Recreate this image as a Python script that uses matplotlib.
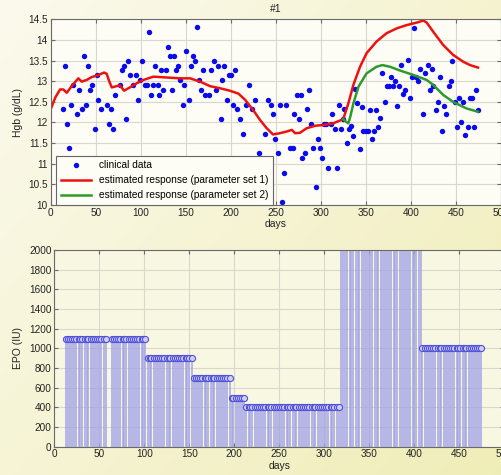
import numpy as np
import matplotlib
matplotlib.use("Agg")
import matplotlib.pyplot as plt

plt.rcParams['font.family'] = ['Liberation Sans', 'DejaVu Sans']

# ---------------- data ----------------
clin_days = [13.7, 15.6, 17.8, 20.4, 22.6, 24.4, 29.6, 31.5, 34.4, 36.7, 38.9, 41.5, 43.7, 45.9,
             48.9, 51.1, 52.6, 55.9, 63, 64.8, 67, 69.6, 71.9, 77, 78.9, 81.1, 83.7, 85.6, 87.8,
             91.1, 94.4, 97.4, 99.6, 101.9, 104.4, 106.7, 108.9, 111.5, 113.7, 115.9, 118.9,
             120.7, 123, 125.2, 127.8, 130, 132.6, 134.8, 137, 139.3, 141.9, 143.7, 146.7, 148.5,
             150.7, 153.7, 155.6, 157.8, 160.4, 162.6, 164.8, 167.4, 169.6, 171.9, 175.6, 178.5,
             181.5, 183.7, 185.9, 188.9, 190.7, 193, 195.6, 197.8, 200.4, 203, 205.2, 207.4, 210,
             214, 216.7, 220.7, 224, 226.7, 231.5, 233.7, 238.1, 241.9, 244.4, 246.7, 249.3,
             252.6, 254.4, 256.7, 259.3, 261.5, 265.9, 268.9, 270.7, 273.7, 275.9, 278.1, 279.6,
             282.2, 284.4, 286.7, 289.3, 291.5, 294.4, 296.7, 298.9, 301.5, 303.7, 305.9, 308.5,
             311.5, 313, 315.6, 317.8, 320, 322.2, 325.2, 326.3, 329.3, 331.5, 333.7, 336.3,
             338.5, 340.7, 343.7, 345.9, 347.4, 350, 352.2, 354.8, 357, 359.3, 361.5, 363.7,
             366.3, 368.5, 371.5, 373.3, 375.9, 378.1, 380, 382.6, 384.8, 387.4, 389.6, 391.9,
             394.1, 396.7, 398.9, 401.5, 403.7, 406.3, 408.5, 410.7, 414, 416.3, 418.9, 421.1,
             423.3, 425.2, 427.8, 430, 432.2, 435.2, 437, 439.3, 442.2, 444.4, 446.3, 449.3,
             451.1, 453.7, 456.3, 458.5, 460.7, 463.3, 465.6, 467.8, 470.4, 472.6, 474.8]
clin_hgb = [12.32, 13.37, 11.96, 11.37, 12.43, 12.90, 12.21, 12.79, 12.32, 13.61, 12.43, 13.37,
            12.79, 12.90, 11.84, 13.14, 12.55, 12.32, 12.43, 11.96, 12.32, 11.84, 12.67, 12.90,
            13.26, 13.37, 12.08, 13.49, 13.14, 12.90, 13.14, 12.55, 13.02, 13.49, 12.90, 12.90,
            14.19, 12.67, 12.90, 13.37, 12.90, 12.67, 13.26, 12.79, 13.26, 13.84, 13.61, 12.79,
            13.61, 13.26, 13.37, 13.02, 12.43, 12.90, 13.72, 12.55, 13.37, 13.61, 13.49, 14.31,
            13.02, 12.79, 13.26, 12.67, 12.67, 13.26, 13.49, 12.79, 13.37, 12.08, 13.02, 13.37,
            12.55, 13.14, 13.14, 12.43, 13.26, 12.32, 12.08, 11.72, 12.43, 12.90, 12.32, 12.55,
            11.26, 11.14, 11.72, 12.55, 12.43, 12.20, 11.61, 11.26, 12.43, 10.07, 10.78, 12.43,
            11.37, 11.37, 12.20, 12.67, 12.08, 12.67, 11.14, 11.26, 12.32, 12.79, 11.96, 11.37,
            10.43, 11.61, 11.37, 11.14, 11.96, 11.96, 10.90, 11.96, 12.20, 11.84, 10.90, 12.43,
            11.84, 12.08, 12.32, 11.50, 11.84, 11.92, 11.68, 12.81, 12.48, 11.35, 12.38, 11.79,
            11.79, 11.79, 12.30, 11.59, 11.79, 12.30, 11.89, 12.10, 13.20, 12.50, 12.89, 12.89,
            13.09, 12.89, 13.00, 12.39, 12.89, 13.40, 12.69, 12.79, 13.51, 12.59, 13.09, 14.29,
            13.09, 13.00, 13.30, 12.20, 13.20, 13.40, 12.79, 13.30, 12.89, 12.29, 12.50, 13.09,
            11.79, 12.39, 12.20, 12.89, 13.00, 13.50, 12.50, 11.89, 12.59, 12.00, 12.50, 11.69,
            11.89, 12.59, 12.59, 11.89, 12.79, 12.29]

est1_days = [0, 5, 10.4, 14, 17.8, 23.3, 30.7, 34.4, 40, 45.6, 53, 59.3, 62.2, 65, 67.8, 73.3, 77,
             81.5, 88, 95.6, 103, 114, 128.9, 143.7, 154.8, 166, 177, 188, 199, 208.5, 216, 225,
             232.6, 240, 247, 254.8, 262, 268, 271.5, 277, 284.4, 293.7, 303, 314, 325, 330.7,
             336.3, 343.7, 351, 362, 373, 384.4, 395.6, 406.7, 414, 417.8, 425, 436, 447, 458.5,
             466, 474.8]
est1_hgb = [12.32, 12.6, 12.8, 12.8, 12.72, 12.88, 13.07, 12.99, 13.03, 13.1, 13.15, 13.21, 13.18,
            13.0, 12.85, 12.88, 12.9, 12.77, 12.85, 12.95, 13.03, 13.11, 13.09, 13.07, 13.07,
            12.99, 12.88, 12.83, 12.77, 12.7, 12.55, 12.3, 12.06, 11.86, 11.71, 11.74, 11.78,
            11.82, 11.74, 11.75, 11.86, 11.92, 11.94, 11.98, 12.08, 12.46, 12.91, 13.35, 13.68,
            13.96, 14.16, 14.28, 14.36, 14.42, 14.47, 14.42, 14.2, 13.88, 13.64, 13.47, 13.39,
            13.33]

est2_days = [325, 328, 330.7, 333, 336.3, 342, 351, 362, 368.5, 377, 388, 403, 417.8, 425, 436,
             447, 462, 474.8]
est2_hgb = [12.08, 12.02, 11.98, 12.15, 12.46, 12.87, 13.19, 13.35, 13.39, 13.35, 13.26, 13.15,
            13.03, 12.91, 12.67, 12.5, 12.34, 12.26]

epo_days = [13, 15, 17, 20, 22, 24, 27, 29, 31, 34, 36, 38, 41, 43, 45, 48, 50, 52, 55, 57,
            64, 66, 69, 71, 73, 76, 78, 80, 83, 85, 87, 90, 92, 94, 97, 99, 101,
            104, 106, 108, 111, 113, 115, 118, 120, 122, 125, 127, 129, 132, 134, 136, 139, 141,
            143, 146, 148, 150, 153,
            155, 157, 160, 162, 164, 167, 169, 171, 174, 176, 178, 181, 183, 185, 188, 190, 192, 195,
            197, 199, 202, 204, 206, 209, 211,
            213, 216, 218, 220, 223, 225, 227, 230, 232, 234, 237, 239, 241, 244, 246, 248, 251,
            253, 255, 258, 260, 262, 265, 267, 269, 272, 274, 276, 279, 281, 283, 286, 288, 290,
            293, 295, 297, 300, 302, 304, 307, 309, 311, 314, 316,
            318, 321, 323, 325, 328, 330, 332, 335, 337, 339, 342, 344, 346, 349, 351, 353, 356,
            358, 360, 363, 365, 367, 370, 372, 374, 377, 379, 381, 384, 386, 388, 391, 393, 395,
            398, 400, 402, 405, 407,
            409, 412, 414, 416, 419, 421, 423, 426, 428, 430, 433, 435, 437, 440, 442, 444, 447,
            449, 451, 454, 456, 458, 461, 463, 465, 468, 470, 472, 474]
epo_dose = ([1100] * 20 + [1100] * 17 + [900] * 22 + [700] * 18 + [500] * 7 + [400] * 45
            + [2500] * 39 + [1000] * 29)

hgb_ticks = [10, 10.5, 11, 11.5, 12, 12.5, 13, 13.5, 14, 14.5]
hgb_ticklabels = ['10', '10.5', '11', '11.5', '12', '12.5', '13', '13.5', '14', '14.5']
day_ticks = [0, 50, 100, 150, 200, 250, 300, 350, 400, 450, 500]
epo_ticks = [0, 200, 400, 600, 800, 1000, 1200, 1400, 1600, 1800, 2000]

# ---------------- figure ----------------
W, H = 502, 475
fig = plt.figure(figsize=(W / 100, H / 100), dpi=100)

# background gradient (cream -> light yellow)
bg = fig.add_axes([0, 0, 1, 1], zorder=-10)
gx = np.linspace(0, 1, 200)
gy = np.linspace(0, 1, 200)
GX, GY = np.meshgrid(gx, gy)
t = np.clip(0.55 * GX + 0.45 * GY, 0, 1)
c0 = np.array([0.985, 0.98, 0.93])
c1 = np.array([0.94, 0.93, 0.72])
img = c0[None, None, :] * (1 - t[..., None]) + c1[None, None, :] * t[..., None]
bg.imshow(img, aspect='auto', extent=[0, 1, 0, 1], origin='upper')
bg.axis('off')

spine_col = '#6a6a6a'
grid_col = '#d8d8cc'
fs = 7.2

def style(ax):
    ax.grid(True, color=grid_col, linewidth=0.8)
    ax.set_axisbelow(True)
    for s in ax.spines.values():
        s.set_color(spine_col)
        s.set_linewidth(0.8)
    ax.tick_params(direction='in', top=True, right=True, length=3,
                   labelsize=fs, color=spine_col, pad=2, labelcolor='#222222')

# top axes
ax1 = fig.add_axes([50.7 / W, 1 - 205 / H, 450 / W, (205 - 19.3) / H])
ax1.set_facecolor('#fdfdf6')
l1, = ax1.plot(clin_days, clin_hgb, 'o', color='#0a0aee', markersize=3.9,
               markeredgewidth=0, label='clinical data')
l2, = ax1.plot(est1_days, est1_hgb, '-', color='#ee1111', linewidth=1.8,
               label='estimated response (parameter set 1)')
l3, = ax1.plot(est2_days, est2_hgb, '-', color='#2e9a2e', linewidth=1.8,
               label='estimated response (parameter set 2)')
ax1.set_xlim(0, 500)
ax1.set_ylim(10, 14.5)
ax1.set_yticks(hgb_ticks)
ax1.set_yticklabels(hgb_ticklabels)
ax1.set_xticks(day_ticks)
style(ax1)
ax1.set_xlabel('days', fontsize=fs + 0.3, labelpad=1, color='#222222')
ax1.set_ylabel('Hgb (g/dL)', fontsize=fs + 0.3, labelpad=4, color='#222222')
ax1.set_title('#1', fontsize=fs + 0.3, pad=5, color='#222222')
leg = ax1.legend(loc='lower left', fontsize=7.3, frameon=True, fancybox=False,
                 borderaxespad=0.0, handlelength=3.0, borderpad=0.45,
                 labelspacing=0.5, handletextpad=0.8, bbox_to_anchor=(0.012, 0.0))
leg.get_frame().set_edgecolor('#666666')
leg.get_frame().set_facecolor('#fdfdf6')
leg.get_frame().set_alpha(1)
leg.get_frame().set_linewidth(0.8)

# bottom axes
ax2 = fig.add_axes([54.3 / W, 1 - 446.7 / H, 450 / W, (446.7 - 250) / H])
ax2.set_facecolor('#f8f7e2')
ml, sl, bl = ax2.stem(epo_days, epo_dose, basefmt=' ')
plt.setp(sl, color='#a4a4e6', linewidth=1.1)
plt.setp(ml, marker='o', markersize=4.4, markerfacecolor='#d0d0f4',
         markeredgecolor='#5050dc', markeredgewidth=0.8)
ax2.set_xlim(0, 500)
ax2.set_ylim(0, 2000)
ax2.set_yticks(epo_ticks)
ax2.set_xticks(day_ticks)
style(ax2)
ax2.set_xlabel('days', fontsize=fs + 0.3, labelpad=1, color='#222222')
ax2.set_ylabel('EPO (IU)', fontsize=fs + 0.3, labelpad=4, color='#222222')

fig.savefig('out.png', dpi=100)
